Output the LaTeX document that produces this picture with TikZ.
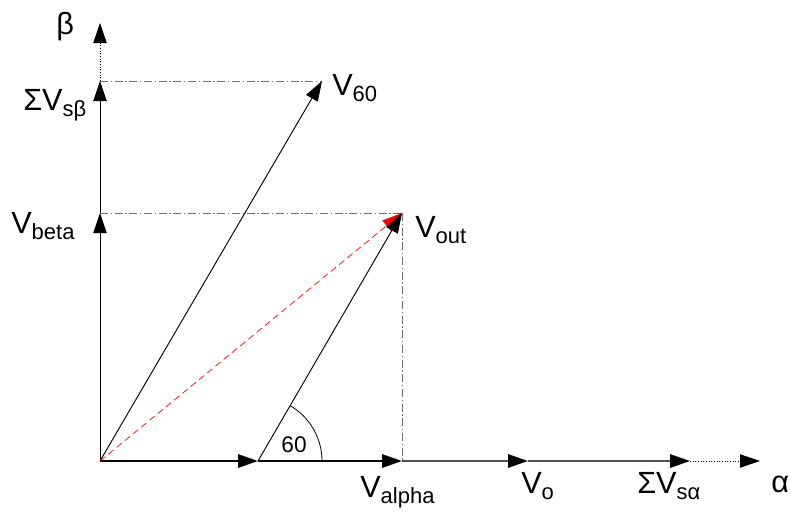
\documentclass[tikz,border=0pt]{standalone}
\usepackage{fontspec}
\setmainfont{Liberation Sans}
\usetikzlibrary{arrows.meta, positioning, calc}
\definecolor{vecline}{HTML}{000000}
\definecolor{axisgray}{HTML}{505050}
\definecolor{guideline}{HTML}{707070}
\definecolor{resline}{HTML}{FF0000}
\newcommand\vsub[1]{\raisebox{-4.5pt}{\fontsize{16.5}{20}\selectfont #1}}
\tikzset{
  vec/.style    = {-{Triangle[length=15pt, width=10pt]}, draw=vecline, line width=0.7pt},
  axvec/.style  = {-{Triangle[length=15pt, width=10pt]}, draw=vecline, line width=1.5pt},
  grayvec/.style= {-{Triangle[length=15pt, width=10pt, color=black]}, draw=axisgray, line width=1.5pt},
  dotvec/.style = {-{Triangle[length=15pt, width=10pt]}, draw=vecline, line width=0.6pt,
                   dash pattern=on 0.8pt off 1.2pt},
  resvec/.style = {-{Triangle[length=15pt, width=10pt]}, draw=resline, line width=0.5pt,
                   dash pattern=on 5pt off 3pt},
  guide/.style  = {draw=guideline, line width=0.6pt, dash pattern=on 6pt off 2pt on 1pt off 2pt},
  lbl/.style    = {font=\fontsize{23}{27}\selectfont, inner sep=0pt, anchor=base west},
  anglbl/.style = {font=\fontsize{17}{20}\selectfont, inner sep=0pt},
}
\begin{document}
\begin{tikzpicture}[x=0.75pt, y=-0.75pt]
  \useasboundingbox (0,0) rectangle (791,511);
  % points of the diagram
  \coordinate (O)    at (100,461);
  \coordinate (Vz)   at (258,461);
  \coordinate (Va)   at (402,461);
  \coordinate (Vo)   at (528,461);
  \coordinate (Sa)   at (690,461);
  \coordinate (atip) at (760,461);
  \coordinate (Vb)   at (100,213);
  \coordinate (Sb)   at (100,81);
  \coordinate (btip) at (100,23);
  \coordinate (Vout) at (402,213);
  \coordinate (V60)  at (322,81);
  % guide lines
  \draw[guide] (Sb) -- (V60);
  \draw[guide] (Vb) -- (Vout);
  \draw[guide] (Vout) -- (Va);
  % alpha axis
  \draw[axvec] (O) -- (Vz);
  \draw[axvec] (Vz) -- (Va);
  \draw[grayvec] (Va) -- (Vo);
  \draw[grayvec] (Vo) -- (Sa);
  \draw[dotvec] (Sa) -- (atip);
  % beta axis
  \draw[vec] (O) -- (Vb);
  \draw[vec] (Vb) -- (Sb);
  \draw[dotvec] (Sb) -- (btip);
  % vectors
  \draw[vec] (O) -- (V60);
  \draw[resvec] (O) -- (Vout);
  \draw[vec] (Vz) -- (Vout);
  \draw[line width=0.6pt] ($(Vz)+(64,0)$) arc[start angle=0, end angle=-60, radius=64];
  % labels
  \node[lbl] (lbeta)  at (56,34)   {β};
  \node[lbl] (lsb)    at (23,110)  {ΣV\vsub{sβ}};
  \node[lbl] (lvb)    at (11,233)  {V\vsub{beta}};
  \node[lbl] (lv60)   at (332,95)  {V\vsub{60}};
  \node[lbl] (lvout)  at (415,237) {V\vsub{out}};
  \node[lbl] (lva)    at (360,497) {V\vsub{alpha}};
  \node[lbl] (lvo)    at (521,493) {V\vsub{o}};
  \node[lbl] (lsa)    at (637,493) {ΣV\vsub{sα}};
  \node[lbl] (lalpha) at (771,492) {α};
  \node[anglbl] (lang) at (294,445) {60};
\end{tikzpicture}
\end{document}
